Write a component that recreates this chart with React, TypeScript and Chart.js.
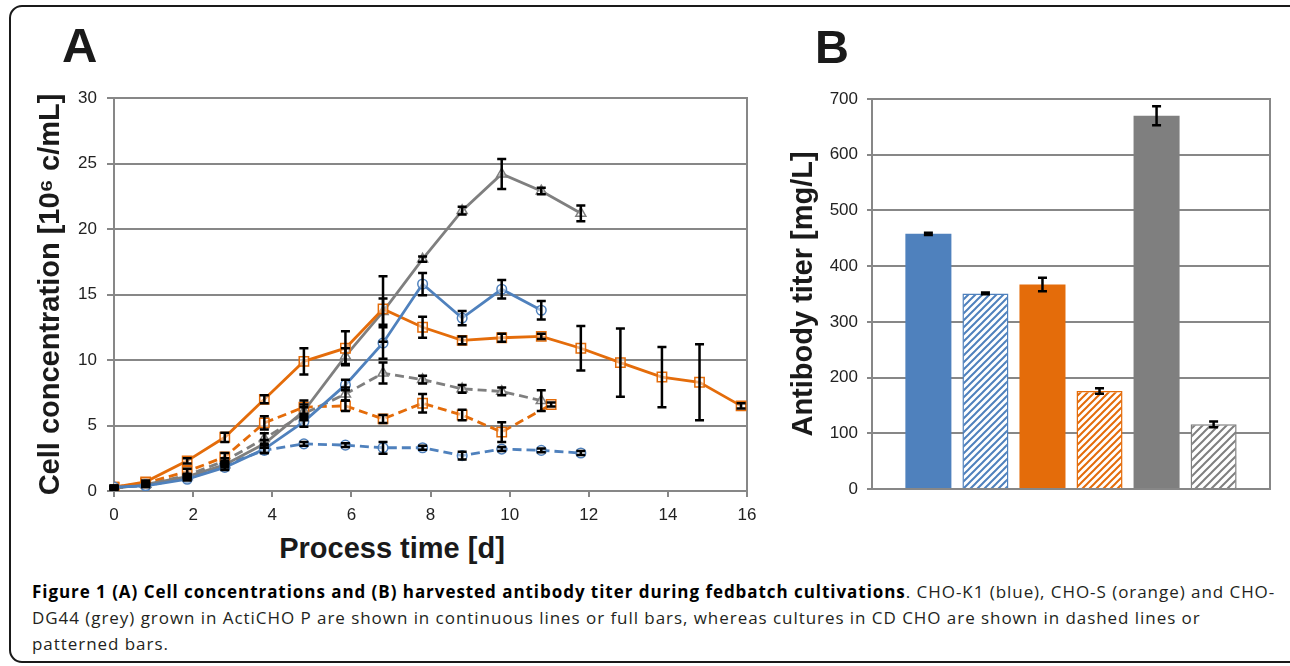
import React, { useEffect, useRef } from 'react';
import { Chart, registerables } from 'chart.js';

Chart.register(...registerables);

// ---------- Panel A data ----------
const times = [0, 0.8, 1.85, 2.8, 3.8, 4.8, 5.85, 6.8, 7.8, 8.8, 9.8, 10.8, 11.8, 12.8, 13.85, 14.8, 15.85];
const timesOrangeDashed = [0, 0.8, 1.85, 2.8, 3.8, 4.8, 5.85, 6.8, 7.8, 8.8, 9.8, 11.05];

const k1Acti = [0.3, 0.4, 0.9, 1.8, 3.2, 5.3, 8.1, 11.3, 15.8, 13.2, 15.4, 13.8];
const k1ActiErr = [0.1, 0.1, 0.1, 0.2, 0.3, 0.4, 0.4, 1.2, 0.85, 0.55, 0.7, 0.7];
const k1Cd = [0.3, 0.4, 1.0, 2.0, 3.1, 3.6, 3.5, 3.3, 3.3, 2.7, 3.2, 3.1, 2.9];
const k1CdErr = [0.1, 0.1, 0.1, 0.1, 0.2, 0.15, 0.15, 0.45, 0.15, 0.3, 0.15, 0.15, 0.15];

const sActi = [0.3, 0.7, 2.3, 4.1, 7.0, 9.9, 10.9, 13.9, 12.5, 11.5, 11.7, 11.8, 10.9, 9.8, 8.7, 8.3, 6.5];
const sActiErr = [0.1, 0.1, 0.2, 0.35, 0.3, 1.0, 1.3, 2.5, 0.8, 0.3, 0.3, 0.2, 1.7, 2.6, 2.3, 2.9, 0.2];
const sCd = [0.3, 0.6, 1.5, 2.6, 5.2, 6.4, 6.5, 5.5, 6.7, 5.8, 4.5, 6.6];
const sCdErr = [0.1, 0.1, 0.2, 0.3, 0.5, 0.5, 0.4, 0.3, 0.7, 0.4, 0.75, 0.15];

const dgActi = [0.2, 0.5, 1.1, 2.0, 3.6, 6.1, 10.3, 13.7, 17.7, 21.4, 24.2, 22.9, 21.2];
const dgActiErr = [0.1, 0.1, 0.1, 0.2, 0.3, 0.5, 0.6, 1.0, 0.2, 0.3, 1.15, 0.25, 0.6];
const dgCd = [0.2, 0.5, 1.2, 2.3, 4.0, 5.9, 7.4, 9.0, 8.5, 7.8, 7.6, 6.9];
const dgCdErr = [0.1, 0.1, 0.1, 0.2, 0.4, 0.5, 0.5, 0.8, 0.3, 0.3, 0.3, 0.8];

// ---------- Panel B data ----------
const barLabels = ['CHO-K1 ActiCHO P', 'CHO-K1 CD CHO', 'CHO-S ActiCHO P', 'CHO-S CD CHO', 'CHO-DG44 ActiCHO P', 'CHO-DG44 CD CHO'];
const titers = [458, 351, 367, 176, 670, 116];
const titerErr = [2, 1.5, 12, 5, 17, 5];

const BLUE = '#4F81BD';
const ORANGE = '#E46C0A';
const GREY = '#7F7F7F';
const GRID = '#878787';
const FONT = '"Liberation Sans", Arial, sans-serif';

const pts = (xs: number[], ys: number[]) => ys.map((y, i) => ({ x: xs[i], y }));

const errorBarPlugin = {
  id: 'errorBars',
  afterDatasetsDraw(chart: any) {
    const ctx = chart.ctx;
    const yScale = chart.scales.y;
    chart.data.datasets.forEach((ds: any, i: number) => {
      const errs: number[] | undefined = ds.errors;
      if (!errs) return;
      const meta = chart.getDatasetMeta(i);
      meta.data.forEach((el: any, j: number) => {
        const e = errs[j];
        if (e == null) return;
        const raw = ds.data[j];
        const v = typeof raw === 'number' ? raw : raw.y;
        const x = el.x;
        const yTop = yScale.getPixelForValue(v + e);
        const yBot = yScale.getPixelForValue(v - e);
        const cap = ds.errCap ?? 4.5;
        ctx.save();
        ctx.strokeStyle = '#000';
        ctx.lineWidth = ds.errWidth ?? 2.5;
        ctx.beginPath();
        ctx.moveTo(x, yTop);
        ctx.lineTo(x, yBot);
        ctx.moveTo(x - cap, yTop);
        ctx.lineTo(x + cap, yTop);
        ctx.moveTo(x - cap, yBot);
        ctx.lineTo(x + cap, yBot);
        ctx.stroke();
        ctx.restore();
      });
    });
  },
};

const rightBorderPlugin = {
  id: 'rightBorder',
  beforeDatasetsDraw(chart: any) {
    const { ctx, chartArea } = chart;
    ctx.save();
    ctx.strokeStyle = GRID;
    ctx.lineWidth = 2;
    ctx.beginPath();
    ctx.moveTo(chartArea.right, chartArea.top - 1);
    ctx.lineTo(chartArea.right, chartArea.bottom + 1);
    ctx.stroke();
    ctx.restore();
  },
};

function makeHatch(color: string, size: number) {
  const c = document.createElement('canvas');
  c.width = size;
  c.height = size;
  const g = c.getContext('2d')!;
  g.fillStyle = '#fff';
  g.fillRect(0, 0, size, size);
  g.strokeStyle = color;
  g.lineWidth = 2;
  g.beginPath();
  g.moveTo(-1, size + 1);
  g.lineTo(size + 1, -1);
  g.moveTo(-1, 1);
  g.lineTo(1, -1);
  g.moveTo(size - 1, size + 1);
  g.lineTo(size + 1, size - 1);
  g.stroke();
  return g.createPattern(c, 'repeat')!;
}

function lineDs(label: string, xs: number[], ys: number[], errs: number[], color: string, dashed: boolean, style: string, r: number) {
  return {
    label,
    data: pts(xs, ys),
    errors: errs,
    borderColor: color,
    borderWidth: 2.8,
    borderDash: dashed ? [9, 5] : [],
    pointStyle: style,
    pointRadius: r,
    pointBorderColor: color,
    pointBackgroundColor: 'rgba(255,255,255,0.45)',
    pointBorderWidth: 1.5,
    fill: false,
    tension: 0,
  };
}

function PanelA() {
  const ref = useRef<HTMLCanvasElement>(null);
  useEffect(() => {
    const chart = new Chart(ref.current!, {
      type: 'line',
      data: {
        datasets: [
          lineDs('CHO-K1 ActiCHO P', times, k1Acti, k1ActiErr, BLUE, false, 'circle', 4.8),
          lineDs('CHO-S ActiCHO P', times, sActi, sActiErr, ORANGE, false, 'rect', 6.6),
          lineDs('CHO-DG44 ActiCHO P', times, dgActi, dgActiErr, GREY, false, 'triangle', 5.8),
          lineDs('CHO-K1 CD CHO', times, k1Cd, k1CdErr, BLUE, true, 'circle', 4.8),
          lineDs('CHO-S CD CHO', timesOrangeDashed, sCd, sCdErr, ORANGE, true, 'rect', 6.6),
          lineDs('CHO-DG44 CD CHO', times, dgCd, dgCdErr, GREY, true, 'triangle', 5.8),
        ] as any,
      },
      options: {
        animation: false,
        responsive: false,
        layout: { padding: { top: 98, right: 37, left: 0, bottom: 0 } },
        plugins: { legend: { display: false }, tooltip: { enabled: false } },
        scales: {
          x: {
            type: 'linear',
            min: 0,
            max: 16,
            ticks: { stepSize: 2, color: '#222', font: { family: FONT, size: 17 }, padding: 8 },
            grid: { drawOnChartArea: false, drawTicks: true, tickLength: 6, color: GRID, lineWidth: 2 },
            border: { color: GRID, width: 2 },
            afterFit: (s: any) => { s.height = 39; },
          },
          y: {
            min: 0,
            max: 30,
            ticks: { stepSize: 5, color: '#222', font: { family: FONT, size: 17 }, padding: 10 },
            grid: { color: GRID, lineWidth: 2, tickLength: 7 },
            border: { color: GRID, width: 2 },
            title: {
              display: true,
              text: 'Cell concentration [10⁶ c/mL]',
              color: '#1a1a1a',
              font: { family: FONT, size: 29, weight: 'bold' },
              padding: { top: 33.6, bottom: 0 },
            },
            afterFit: (s: any) => { s.width = 114; },
          },
        },
      } as any,
      plugins: [rightBorderPlugin, errorBarPlugin],
    });
    return () => chart.destroy();
  }, []);
  return <canvas ref={ref} width={784} height={530} style={{ position: 'absolute', left: 0, top: 0 }} />;
}

function PanelB() {
  const ref = useRef<HTMLCanvasElement>(null);
  useEffect(() => {
    const fills = [
      BLUE,
      makeHatch(BLUE, 7),
      ORANGE,
      makeHatch(ORANGE, 7),
      GREY,
      makeHatch(GREY, 8),
    ];
    const hatched = [false, true, false, true, false, true];
    const borders = [BLUE, BLUE, ORANGE, ORANGE, GREY, GREY];
    const chart = new Chart(ref.current!, {
      type: 'bar',
      data: {
        labels: [''],
        datasets: barLabels.map((label, i) => ({
          label,
          data: [titers[i]],
          errors: [titerErr[i]],
          errCap: 4.5,
          errWidth: 2.5,
          backgroundColor: fills[i],
          borderColor: borders[i],
          borderWidth: hatched[i] ? 1.5 : 0,
          categoryPercentage: 0.86,
          barPercentage: 0.807,
        })) as any,
      },
      options: {
        animation: false,
        responsive: false,
        layout: { padding: { top: 99, right: 20, left: 0, bottom: 21 } },
        plugins: { legend: { display: false }, tooltip: { enabled: false } },
        scales: {
          x: { display: false },
          y: {
            min: 0,
            max: 700,
            ticks: { stepSize: 100, color: '#222', font: { family: FONT, size: 17 }, padding: 9 },
            grid: { color: GRID, lineWidth: 2, tickLength: 5 },
            border: { color: GRID, width: 2 },
            title: {
              display: true,
              text: 'Antibody titer [mg/L]',
              color: '#1a1a1a',
              font: { family: FONT, size: 29, weight: 'bold' },
              padding: { top: 6.6, bottom: 0 },
            },
            afterFit: (s: any) => { s.width = 92; },
          },
        },
      } as any,
      plugins: [rightBorderPlugin, errorBarPlugin],
    });
    return () => chart.destroy();
  }, []);
  return <canvas ref={ref} width={510} height={510} style={{ position: 'absolute', left: 780, top: 0 }} />;
}

export default function App() {
  return (
    <div style={{ position: 'absolute', left: 0, top: 0, width: 1290, height: 666, overflow: 'hidden', background: '#fff' }}>
      <div
        style={{
          position: 'absolute',
          left: 9,
          top: 5,
          width: 1300,
          height: 658,
          boxSizing: 'border-box',
          border: '2px solid #1a1a1a',
          borderRadius: 13,
        }}
      />
      <PanelA />
      <PanelB />
      <div style={{ position: 'absolute', left: 62, top: 21, font: `bold 49px ${FONT}`, lineHeight: '49px', color: '#1a1a1a' }}>A</div>
      <div style={{ position: 'absolute', left: 815, top: 23, font: `bold 47px ${FONT}`, lineHeight: '47px', color: '#1a1a1a' }}>B</div>
      <div
        style={{
          position: 'absolute',
          left: 0,
          width: 784,
          top: 534,
          textAlign: 'center',
          font: `bold 29px ${FONT}`,
          lineHeight: '29px',
          color: '#1a1a1a',
        }}
      >
        Process time [d]
      </div>
      <div
        style={{
          position: 'absolute',
          left: 32,
          top: 579,
          font: '17px "Open Sans", sans-serif',
          letterSpacing: '0.95px',
          lineHeight: '26px',
          color: '#231f20',
          whiteSpace: 'nowrap',
        }}
      >
        <b style={{ color: '#000' }}>Figure 1 (A) Cell concentrations and (B) harvested antibody titer during fedbatch cultivations</b>. CHO-K1 (blue), CHO-S (orange) and CHO-
        <br />
        DG44 (grey) grown in ActiCHO P are shown in continuous lines or full bars, whereas cultures in CD CHO are shown in dashed lines or
        <br />
        patterned bars.
      </div>
    </div>
  );
}
